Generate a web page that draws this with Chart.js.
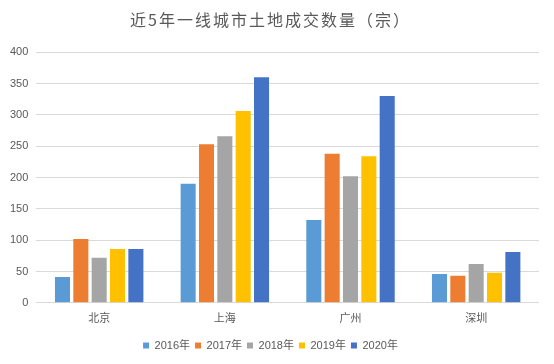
<!DOCTYPE html>
<html>
<head>
<meta charset="utf-8">
<script src="https://cdn.jsdelivr.net/npm/chart.js@4"></script>
<style>
  html, body { margin: 0; padding: 0; background: #fff; }
  #wrap { width: 554px; height: 364px; position: relative; }
</style>
</head>
<body>
<div id="wrap"><canvas id="landChart"></canvas></div>
<script>
const cities = ["北京", "上海", "广州", "深圳"];
const years = ["2016年", "2017年", "2018年", "2019年", "2020年"];
const data2016 = [41, 190, 132, 46];
const data2017 = [102, 253, 238, 43];
const data2018 = [72, 266, 202, 62];
const data2019 = [86, 306, 234, 48];
const data2020 = [86, 360, 330, 81];
const yTicks = [0, 50, 100, 150, 200, 250, 300, 350, 400];

const colors = ["#5B9BD5", "#ED7D31", "#A5A5A5", "#FFC000", "#4472C4"];
const series = [data2016, data2017, data2018, data2019, data2020];
const fontFam = "'Noto Sans CJK SC', 'Liberation Sans', sans-serif";

const chart = new Chart(document.getElementById("landChart"), {
  type: "bar",
  data: {
    labels: cities,
    datasets: series.map((d, i) => ({
      label: years[i],
      data: d,
      backgroundColor: colors[i],
      categoryPercentage: 0.73,
      barPercentage: 0.82
    }))
  },
  options: {
    responsive: true,
    maintainAspectRatio: false,
    animation: false,
    layout: { padding: { left: 2, right: 15, top: 2, bottom: 3 } },
    plugins: {
      title: {
        display: true,
        text: "近5年一线城市土地成交数量（宗）",
        color: "#595959",
        font: { family: fontFam, size: 16, weight: "normal" },
        padding: { top: 8, bottom: 23 }
      },
      legend: {
        position: "bottom",
        labels: {
          boxWidth: 6, boxHeight: 6,
          color: "#595959",
          font: { family: "'Liberation Sans', 'Noto Sans CJK SC', sans-serif", size: 11 },
          padding: 5
        }
      },
      tooltip: { enabled: false }
    },
    scales: {
      x: {
        grid: { display: false },
        border: { display: false },
        ticks: { color: "#595959", font: { family: fontFam, size: 11 }, padding: 0 },
        afterFit: axis => { axis.height += 11; }
      },
      y: {
        min: 0, max: 400,
        afterBuildTicks: axis => { axis.ticks = yTicks.map(v => ({ value: v })); },
        grid: { color: "#D9D9D9", drawTicks: false },
        border: { display: false },
        ticks: { color: "#595959", font: { family: "'Liberation Sans', sans-serif", size: 11 }, padding: 8 }
      }
    }
  }
});

// wider letter spacing for the title, like the original
const titleDraw = chart.titleBlock.draw;
chart.titleBlock.draw = function () {
  this.ctx.save();
  this.ctx.letterSpacing = "2px";
  titleDraw.call(this);
  this.ctx.restore();
};
chart.draw();
</script>
</body>
</html>
